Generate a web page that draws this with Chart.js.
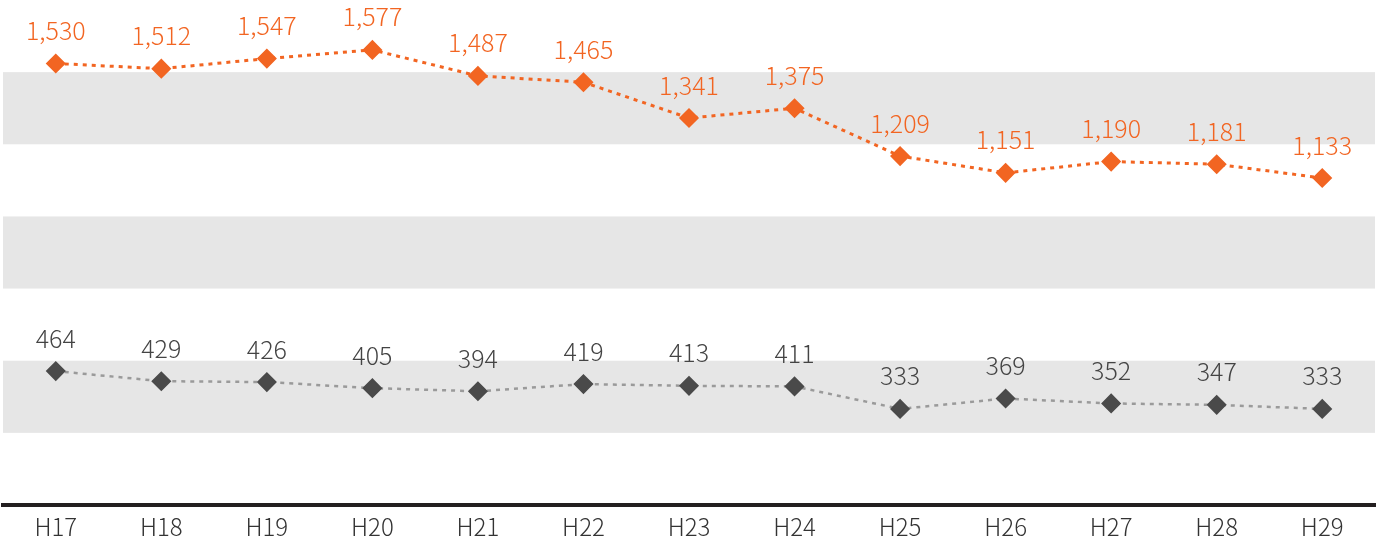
<!DOCTYPE html>
<html lang="ja">
<head>
<meta charset="utf-8">
<title>推移</title>
<script src="https://cdn.jsdelivr.net/npm/chart.js@4/dist/chart.umd.min.js"></script>
<style>
  html, body { margin: 0; padding: 0; background: #fff; }
  #wrap { width: 1392px; height: 537px; position: relative; }
</style>
</head>
<body>
<div id="wrap"><canvas id="myChart"></canvas></div>
<script>
/* global Chart */

const years = ['H17', 'H18', 'H19', 'H20', 'H21', 'H22', 'H23', 'H24', 'H25', 'H26', 'H27', 'H28', 'H29'];
const upperSeries = [1530, 1512, 1547, 1577, 1487, 1465, 1341, 1375, 1209, 1151, 1190, 1181, 1133];
const lowerSeries = [464, 429, 426, 405, 394, 419, 413, 411, 333, 369, 352, 347, 333];
const yMin = 0;
const yMax = 1750;
const yStep = 250;

const orange = '#f26522';
const darkGray = '#4a4a4a';
const fontFamily = "'Noto Sans CJK JP', 'Noto Sans', sans-serif";

/* alternating gray bands behind the plot */
const bandsPlugin = {
  id: 'bands',
  beforeDatasetsDraw(chart) {
    const { ctx, chartArea } = chart;
    const yScale = chart.scales.y;
    const ticks = yScale.ticks;
    ctx.save();
    ctx.fillStyle = '#e6e6e6';
    for (let i = 1; i < ticks.length - 1; i += 2) {
      const top = yScale.getPixelForValue(ticks[i + 1].value);
      const bottom = yScale.getPixelForValue(ticks[i].value);
      ctx.fillRect(chartArea.left, top, chartArea.right - chartArea.left, bottom - top);
    }
    ctx.restore();
  },
};

/* value labels above each point */
const valueLabelsPlugin = {
  id: 'valueLabels',
  afterDatasetsDraw(chart) {
    const { ctx } = chart;
    ctx.save();
    ctx.font = `300 25px ${fontFamily}`;
    ctx.textAlign = 'center';
    ctx.textBaseline = 'middle';
    chart.data.datasets.forEach((ds, di) => {
      const meta = chart.getDatasetMeta(di);
      ctx.fillStyle = ds.labelColor;
      meta.data.forEach((pt, i) => {
        ctx.fillText(ds.data[i].toLocaleString('en-US'), pt.x, pt.y - 33);
      });
    });
    ctx.restore();
  },
};

function trendChart() {
  const config = {
    type: 'line',
    data: {
      labels: years,
      datasets: [
        {
          data: upperSeries,
          borderColor: orange,
          borderWidth: 3,
          borderDash: [4, 5],
          pointStyle: 'rectRot',
          pointRadius: 9,
          pointBorderWidth: 1.5,
          pointBackgroundColor: orange,
          pointBorderColor: orange,
          labelColor: orange,
          tension: 0,
        },
        {
          data: lowerSeries,
          borderColor: '#9a9a9a',
          borderWidth: 2.5,
          borderDash: [4, 5],
          pointStyle: 'rectRot',
          pointRadius: 9,
          pointBorderWidth: 1.5,
          pointBackgroundColor: darkGray,
          pointBorderColor: darkGray,
          labelColor: '#444444',
          tension: 0,
        },
      ],
    },
    options: {
      responsive: true,
      maintainAspectRatio: false,
      animation: false,
      clip: false,
      layout: { autoPadding: false, padding: { left: 3, right: 17, top: 0, bottom: 0 } },
      plugins: {
        legend: { display: false },
        tooltip: { enabled: false },
      },
      scales: {
        x: {
          offset: true,
          grid: { display: false },
          border: { color: '#231f20', width: 4 },
          ticks: {
            color: '#333333',
            padding: -1,
            font: { size: 24, weight: '300', family: fontFamily },
          },
          afterFit(scale) { scale.height = 32; },
        },
        y: {
          display: false,
          min: yMin,
          max: yMax,
          ticks: { stepSize: yStep },
        },
      },
    },
    plugins: [bandsPlugin, valueLabelsPlugin],
  };
  const ctx = document.getElementById('myChart');

  return new Chart(ctx, config);
}

document.addEventListener('DOMContentLoaded', trendChart);
</script>
</body>
</html>
